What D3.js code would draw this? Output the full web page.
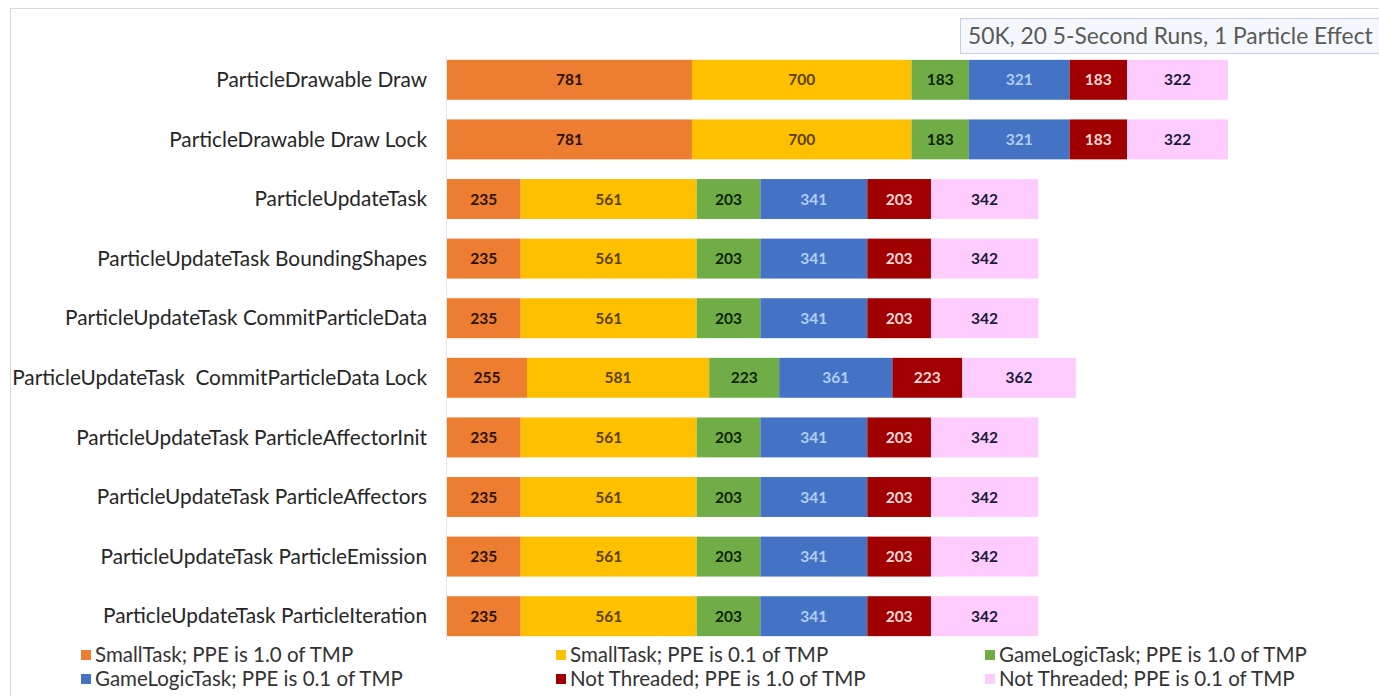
<!DOCTYPE html>
<html><head><meta charset="utf-8">
<script src="https://cdn.jsdelivr.net/npm/d3@7"></script>
<style>body{margin:0;background:#fff;}svg{display:block;}</style>
</head><body>
<script>
const categories = [
  "ParticleDrawable Draw",
  "ParticleDrawable Draw Lock",
  "ParticleUpdateTask",
  "ParticleUpdateTask BoundingShapes",
  "ParticleUpdateTask CommitParticleData",
  "ParticleUpdateTask  CommitParticleData Lock",
  "ParticleUpdateTask ParticleAffectorInit",
  "ParticleUpdateTask ParticleAffectors",
  "ParticleUpdateTask ParticleEmission",
  "ParticleUpdateTask ParticleIteration"
];
const seriesNames = [
  "SmallTask; PPE is 1.0 of TMP",
  "SmallTask; PPE is 0.1 of TMP",
  "GameLogicTask; PPE is 1.0 of TMP",
  "GameLogicTask; PPE is 0.1 of TMP",
  "Not Threaded; PPE is 1.0 of TMP",
  "Not Threaded; PPE is 0.1 of TMP"
];
const smallTask10 = [781,781,235,235,235,255,235,235,235,235];
const smallTask01 = [700,700,561,561,561,581,561,561,561,561];
const gameLogic10 = [183,183,203,203,203,223,203,203,203,203];
const gameLogic01 = [321,321,341,341,341,361,341,341,341,341];
const notThreaded10 = [183,183,203,203,203,223,203,203,203,203];
const notThreaded01 = [322,322,342,342,342,362,342,342,342,342];
const titleText = "50K, 20 5-Second Runs, 1 Particle Effect";

const seriesValues = [smallTask10, smallTask01, gameLogic10, gameLogic01, notThreaded10, notThreaded01];
const colors = ["#ED7D31","#FFC000","#70AD47","#4472C4","#A00000","#FFCCFF"];
const labelColors = ["#2a1200","#5a4200","#0f2408","#b0cdf2","#ffd8d8","#1a1a3a"];

const W = 1379, H = 696;
const svg = d3.select("body").append("svg").attr("width", W).attr("height", H);
const font = "Lato, 'Open Sans', sans-serif";

// outer border
svg.append("path").attr("d", `M10.5,${H} V8.5 H${W}`).attr("fill","none").attr("stroke","#d9d9d9");

const rows = categories.map((c,i)=>{
  const r = {cat:c};
  seriesNames.forEach((s,j)=> r[s] = seriesValues[j][i]);
  return r;
});
const stack = d3.stack().keys(seriesNames)(rows);

const x0 = 447;
const x = d3.scaleLinear().domain([0, 2490]).range([x0, x0 + 781]);
const y = d3.scaleBand().domain(categories).range([50, 646]).paddingInner(0.33).paddingOuter(0.165);

// axis line
svg.append("line").attr("x1", x0-0.5).attr("x2", x0-0.5).attr("y1", 56).attr("y2", 640).attr("stroke","#e6e6e6");

const g = svg.append("g");
stack.forEach((layer, j) => {
  layer.forEach((d, i) => {
    const cat = categories[i];
    g.append("rect")
      .attr("x", x(d[0])).attr("y", y(cat))
      .attr("width", x(d[1]) - x(d[0])).attr("height", y.bandwidth())
      .attr("fill", colors[j]);
    g.append("text")
      .attr("x", (x(d[0]) + x(d[1]))/2).attr("y", y(cat) + y.bandwidth()/2)
      .attr("dy", "0.36em").attr("text-anchor","middle")
      .attr("font-family", font).attr("font-weight","bold").attr("font-size", 15.5)
      .attr("fill", labelColors[j])
      .text(seriesValues[j][i]);
  });
});

// category labels
svg.append("g").selectAll("text").data(categories).join("text")
  .attr("x", 427).attr("y", d => y(d) + y.bandwidth()/2)
  .attr("dy","0.35em").attr("text-anchor","end")
  .attr("font-family", font).attr("font-size", 20.8).attr("fill","#262626")
  .attr("xml:space","preserve").style("white-space","pre")
  .text(d=>d);

// title box
svg.append("rect").attr("x", 960.5).attr("y", 18.5).attr("width", 430).attr("height", 35)
  .attr("fill","#f4f7fb").attr("stroke","#c5ceda");
svg.append("text").attr("x", 968).attr("y", 36).attr("dy","0.35em")
  .attr("font-family", font).attr("font-size", 22.8).attr("fill","#595959").text(titleText);

// legend
const legX = [81, 556, 985];
const legY = [655, 679];
seriesNames.forEach((s, j) => {
  const cx = legX[j % 3], cy = legY[Math.floor(j / 3)];
  svg.append("rect").attr("x", cx).attr("y", cy - 5).attr("width", 10).attr("height", 10).attr("fill", colors[j]);
  svg.append("text").attr("x", cx + 14).attr("y", cy).attr("dy","0.35em")
    .attr("font-family", font).attr("font-size", 20.5).attr("fill","#333")
    .text(s);
});
</script>
</body></html>
